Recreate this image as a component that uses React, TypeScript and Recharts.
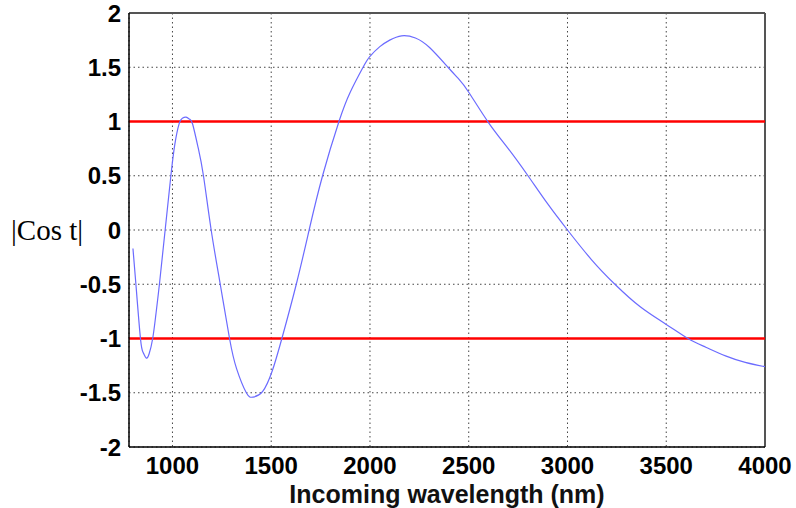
import React from 'react';
import {
  LineChart,
  Line,
  XAxis,
  YAxis,
  CartesianGrid,
  ReferenceLine,
} from 'recharts';

const wavelengths = [
  800, 815, 838, 852, 867, 882, 900, 916, 934, 963, 992, 1012, 1034, 1050, 1069,
  1088, 1103, 1130, 1157, 1196, 1242, 1289, 1325, 1374, 1408, 1456, 1505, 1554,
  1627, 1692, 1760, 1843, 1900, 1965, 2000, 2050, 2100, 2160, 2230, 2303, 2395,
  2450, 2500, 2600, 2700, 2800, 2900, 3000, 3120, 3240, 3370, 3500, 3610, 3700,
  3800, 3900, 4000,
];
const cosT = [
  -0.17, -0.5, -1.0, -1.13, -1.18, -1.14, -1.0, -0.78, -0.5, 0, 0.5, 0.79, 0.98,
  1.03, 1.04, 1.02, 0.97, 0.76, 0.5, 0, -0.5, -1.0, -1.28, -1.5, -1.54, -1.49,
  -1.3, -1.0, -0.5, 0, 0.5, 1.0, 1.27, 1.5, 1.6, 1.69, 1.75, 1.79, 1.77, 1.68,
  1.5, 1.39, 1.27, 0.99, 0.75, 0.5, 0.24, 0, -0.27, -0.5, -0.71, -0.87, -1.0,
  -1.08, -1.16, -1.22, -1.26,
];
const limits = [1, -1];
const xTicks = [1000, 1500, 2000, 2500, 3000, 3500, 4000];
const yTicks = [-2, -1.5, -1, -0.5, 0, 0.5, 1, 1.5, 2];

const data = wavelengths.map((w, i) => ({ w, v: cosT[i] }));

const tickStyle = {
  fontFamily: 'Liberation Sans, Arial, sans-serif',
  fontWeight: 'bold',
  fontSize: 24,
  fill: '#000',
};

const App = () => {
  return (
    <div style={{ position: 'absolute', left: 0, top: 0, background: '#fff' }}>
      <LineChart
        width={796}
        height={508}
        data={data}
        margin={{ top: 13, right: 31, left: 0, bottom: 0 }}
      >
        <CartesianGrid stroke="#444" strokeDasharray="1.5 3" />
        <XAxis
          dataKey="w"
          type="number"
          domain={[780, 4000]}
          ticks={xTicks}
          allowDataOverflow
          height={61}
          tickLine={false}
          tickSize={8}
          stroke="#000"
          strokeWidth={1.5}
          tick={tickStyle}
          label={({ viewBox }: any) => (
            <text
              x={viewBox.x + viewBox.width / 2}
              y={503}
              textAnchor="middle"
              style={{
                fontFamily: 'Liberation Sans, Arial, sans-serif',
                fontWeight: 'bold',
                fontSize: 25,
                fill: '#111',
              }}
            >
              Incoming wavelength (nm)
            </text>
          )}
        />
        <YAxis
          type="number"
          domain={[-2, 2]}
          ticks={yTicks}
          width={129}
          tickLine={false}
          tickSize={6}
          stroke="#000"
          strokeWidth={1.5}
          tick={tickStyle}
          label={({ viewBox }: any) => (
            <text
              x={11}
              y={viewBox.y + viewBox.height / 2 + 10}
              textAnchor="start"
              style={{
                fontFamily: 'Liberation Serif, Times New Roman, serif',
                fontSize: 29,
                fill: '#000',
              }}
            >
              |Cos t|
            </text>
          )}
        />
        <ReferenceLine y={2} stroke="#555" strokeWidth={2} />
        <ReferenceLine x={4000} stroke="#555" strokeWidth={2} />
        {limits.map((l) => (
          <ReferenceLine key={l} y={l} stroke="#ff0000" strokeWidth={2.5} />
        ))}
        <Line
          type="natural"
          dataKey="v"
          stroke="#6b6bff"
          strokeWidth={1.2}
          dot={false}
          isAnimationActive={false}
        />
      </LineChart>
    </div>
  );
};

export default App;
